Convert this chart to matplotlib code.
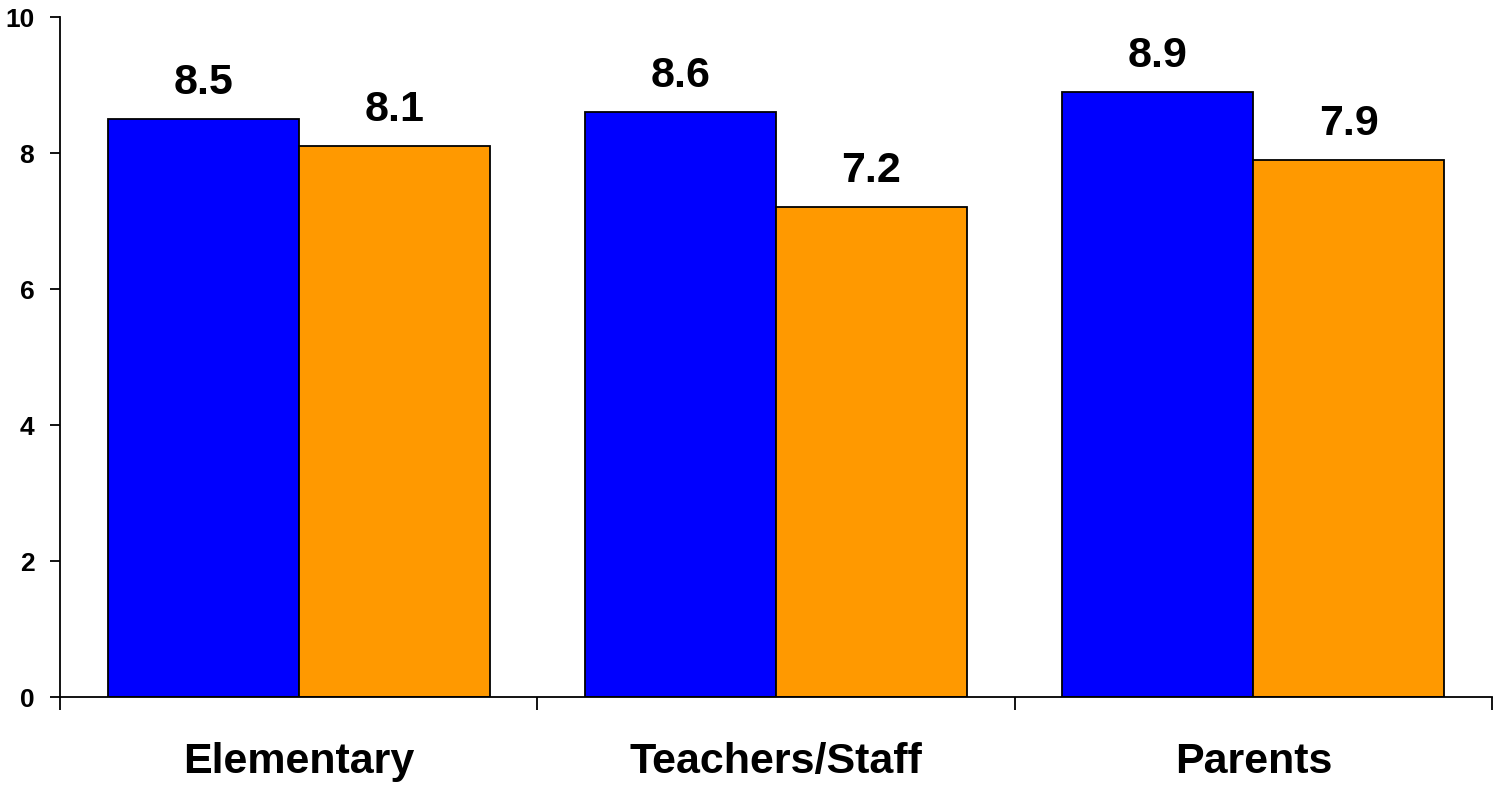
import numpy as np
import matplotlib
matplotlib.use("Agg")
import matplotlib.pyplot as plt

plt.rcParams['font.family'] = ['Liberation Sans', 'DejaVu Sans']
plt.rcParams['font.weight'] = 'bold'

categories = ['Elementary', 'Teachers/Staff', 'Parents']
first_scores = [8.5, 8.6, 8.9]
second_scores = [8.1, 7.2, 7.9]
y_ticks = [0, 2, 4, 6, 8, 10]

fig = plt.figure(figsize=(14.94, 7.85), dpi=100)
ax = fig.add_axes([0.0402, 0.1121, 0.9585, 0.8662])

x = np.arange(len(categories))
width = 0.4
b1 = ax.bar(x - width / 2, first_scores, width, color='#0000FF',
            edgecolor='black', linewidth=1.3)
b2 = ax.bar(x + width / 2, second_scores, width, color='#FF9900',
            edgecolor='black', linewidth=1.3)

for bars, vals in ((b1, first_scores), (b2, second_scores)):
    for rect, v in zip(bars, vals):
        ax.annotate('%.1f' % v, (rect.get_x() + rect.get_width() / 2, v),
                    xytext=(0, 18), textcoords='offset points',
                    ha='center', va='baseline', fontsize=31, fontweight='bold')

ax.set_xlim(-0.5, len(categories) - 0.5)
ax.set_ylim(0, 10)
ax.set_yticks(y_ticks)
ax.tick_params(axis='y', length=7.5, width=1.3, pad=11, labelsize=19)

# category names centred, tick marks on the group boundaries
ax.set_xticks(x)
ax.set_xticklabels(categories, fontsize=31, fontweight='bold')
ax.tick_params(axis='x', which='major', length=0, pad=32.5)
ax.set_xticks(np.arange(len(categories) + 1) - 0.5, minor=True)
ax.tick_params(axis='x', which='minor', length=9.5, width=1.3)

ax.spines['top'].set_visible(False)
ax.spines['right'].set_visible(False)
for s in ('left', 'bottom'):
    ax.spines[s].set_linewidth(1.3)

fig.savefig('out.png', dpi=100)
